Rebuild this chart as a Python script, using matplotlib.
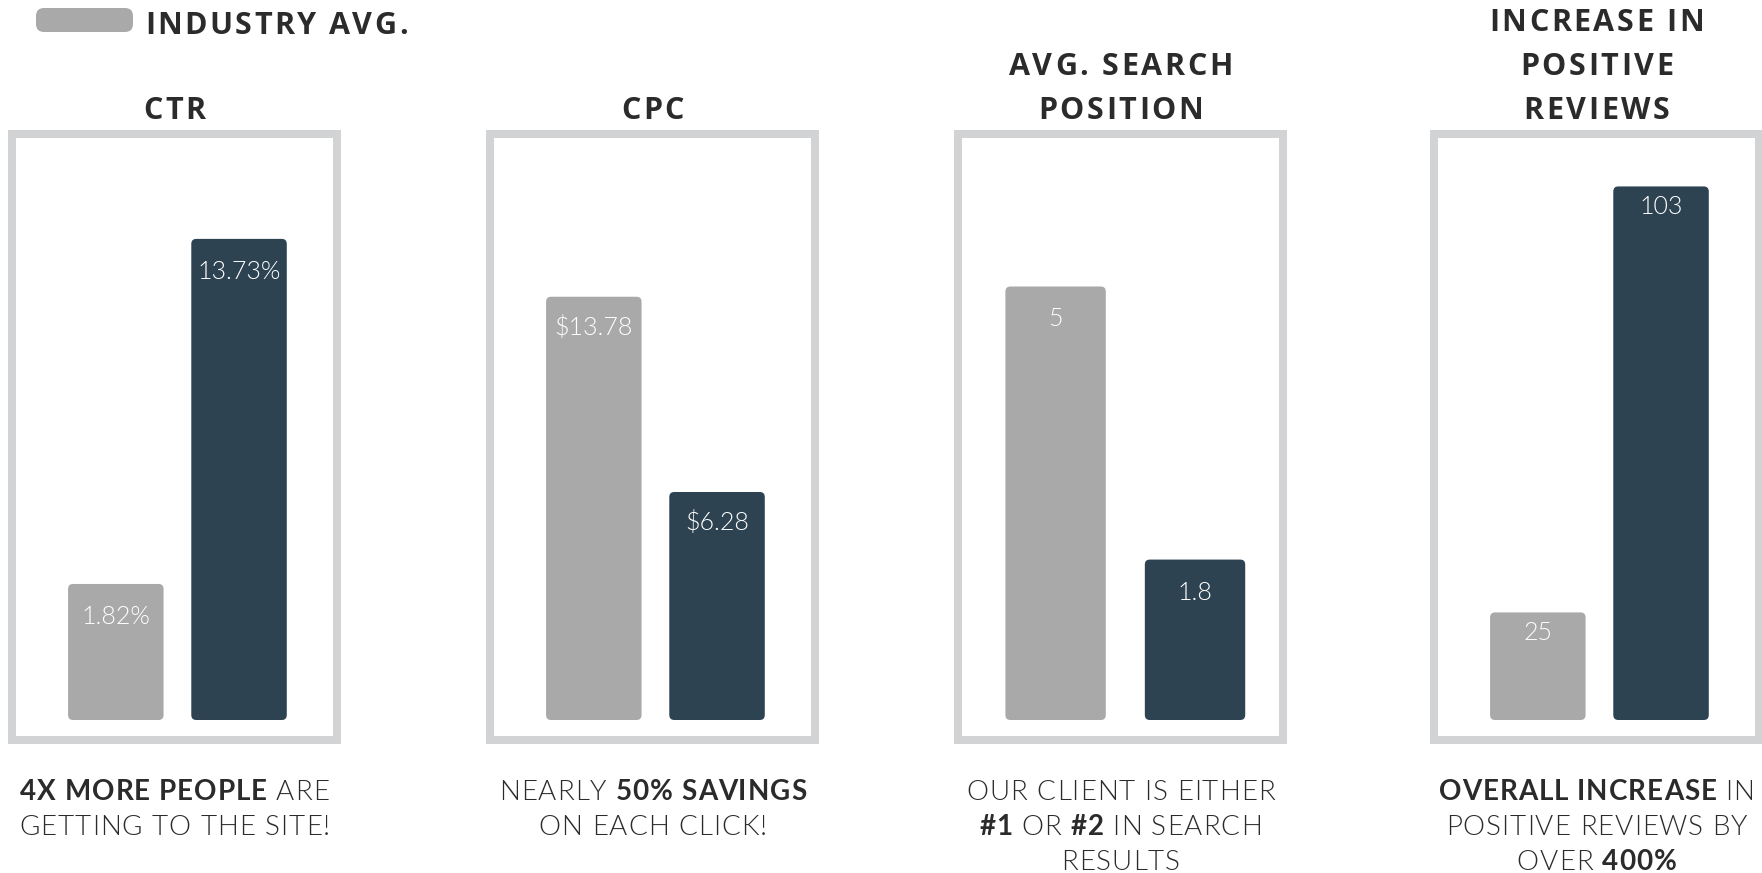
import matplotlib
matplotlib.use("Agg")
import matplotlib.pyplot as plt
from matplotlib.patches import FancyBboxPatch, Rectangle

# ---------------- data ----------------
titles = [["CTR"], ["CPC"], ["AVG. SEARCH", "POSITION"], ["INCREASE IN", "POSITIVE", "REVIEWS"]]
legend_label = "INDUSTRY AVG."
industry_values = [1.82, 13.78, 5, 25]
client_values = [13.73, 6.28, 1.8, 103]
industry_labels = ["1.82%", "$13.78", "5", "25"]
client_labels = ["13.73%", "$6.28", "1.8", "103"]
captions = [
    [[("4X MORE PEOPLE", True), ("ARE", False)], [("GETTING TO THE SITE!", False)]],
    [[("NEARLY", False), ("50% SAVINGS", True)], [("ON EACH CLICK!", False)]],
    [[("OUR CLIENT IS EITHER", False)], [("#1", True), ("OR", False), ("#2", True), ("IN SEARCH", False)],
     [("RESULTS", False)]],
    [[("OVERALL INCREASE", True), ("IN", False)], [("POSITIVE REVIEWS BY", False)],
     [("OVER", False), ("400%", True)]],
]

# ---------------- style / layout ----------------
W, H, DPI = 1762, 873, 100
GRAY = "#A9A9A9"
DARK = "#2D4351"
FRAME = "#D2D3D5"
TXT = "#2B2B2B"
plt.rcParams["font.family"] = ["Lato", "DejaVu Sans"]
TITLE_FONT = ["Open Sans", "Lato", "DejaVu Sans"]
CAP_FONT = ["Lato", "DejaVu Sans"]

ax_left_px = [12, 490, 958, 1434]
ax_w_px = 325
ax_top_px, ax_bot_px = 134, 739.5
ax_h_px = ax_bot_px - ax_top_px
xlims = [(-0.8425, 1.795), (-0.8425, 1.795), (-0.700, 1.631), (-0.8425, 1.795)]
bar_widths = [0.775, 0.775, 0.72, 0.775]
bar_base = [-2.875, -2.476, -0.08, 5.3]
ylims = [(-3.548, 17.35), (-3.225, 20.03), (-0.3085, 6.787), (1.729, 112.6)]
label_offsets = [33, 31, 33, 21]
corner_px = 5

fig = plt.figure(figsize=(W / DPI, H / DPI), dpi=DPI)
fig.patch.set_facecolor("white")

for i in range(4):
    ax = fig.add_axes([ax_left_px[i] / W, 1 - ax_bot_px / H, ax_w_px / W, ax_h_px / H])
    ax.set_xlim(*xlims[i])
    ax.set_ylim(*ylims[i])
    ax.axis("off")
    ax.add_patch(Rectangle((0, 0), 1, 1, transform=ax.transAxes, fill=False,
                           lw=8 * 72 / DPI, ec=FRAME, joinstyle="miter", clip_on=False))
    pxx = ax_w_px / (xlims[i][1] - xlims[i][0])
    pxy = ax_h_px / (ylims[i][1] - ylims[i][0])
    vals = [industry_values[i], client_values[i]]
    labs = [industry_labels[i], client_labels[i]]
    bars = ax.bar([0, 1], [v - bar_base[i] for v in vals], bottom=bar_base[i],
                  width=bar_widths[i], color=[GRAY, DARK])
    for b, lab, col in zip(bars, labs, [GRAY, DARK]):
        x0, y0, w, h = b.get_x(), b.get_y(), b.get_width(), b.get_height()
        b.remove()
        r = corner_px / pxx
        ax.add_patch(FancyBboxPatch((x0, y0), w, h,
                                    boxstyle=f"round,pad=0,rounding_size={r}",
                                    mutation_aspect=pxx / pxy, fc=col, ec="none"))
        ax.annotate(lab, xy=(x0 + w / 2, y0 + h), xytext=(0, -label_offsets[i]),
                    textcoords="offset pixels", ha="center", va="center",
                    color="white", fontsize=18, fontweight=300, parse_math=False)

# overlay in pixel coordinates
ov = fig.add_axes([0, 0, 1, 1])
ov.set_xlim(0, W)
ov.set_ylim(H, 0)
ov.axis("off")
ov.patch.set_visible(False)
renderer = fig.canvas.get_renderer()

_cache = {}


def ink_w(s, fs, weight, family):
    key = (s, fs, weight, tuple(family))
    if key not in _cache:
        t = ov.text(0, 0, s, fontsize=fs, fontweight=weight, family=family, parse_math=False)
        _cache[key] = t.get_window_extent(renderer).width
        t.remove()
    return _cache[key]


def adv(c, fs, weight, family):
    return ink_w("H" + c + "H", fs, weight, family) - ink_w("HH", fs, weight, family)


def tracked(x, y, segments, fs, family, track, align="center"):
    """Draw text made of (string, weight) segments with letter spacing."""
    chars = []
    for k, (s, wt) in enumerate(segments):
        if k > 0:
            chars.append((" ", segments[k - 1][1]))
        chars.extend((c, wt) for c in s)
    advs = [adv(c, fs, wt, family) for c, wt in chars]
    total = sum(advs) + track * (len(chars) - 1)
    pen = x - total / 2 if align == "center" else x
    for (c, wt), a in zip(chars, advs):
        if c != " ":
            ov.text(pen + a / 2, y, c, ha="center", va="baseline", fontsize=fs,
                    fontweight=wt, family=family, color=TXT, parse_math=False)
        pen += a + track


# legend
ov.add_patch(FancyBboxPatch((36, 8), 97, 24, boxstyle="round,pad=0,rounding_size=8",
                            fc=GRAY, ec="none"))
tracked(145, 34, [(legend_label, "bold")], 22, TITLE_FONT, 2.4, align="left")

# titles
for i in range(4):
    cx = ax_left_px[i] + ax_w_px / 2
    for j, line in enumerate(reversed(titles[i])):
        tracked(cx, 119 - j * 44, [(line, "bold")], 22, TITLE_FONT, 2.6)

# captions with mixed weights
for i in range(4):
    cx = ax_left_px[i] + ax_w_px / 2
    for j, segs in enumerate(captions[i]):
        tracked(cx, 800 + j * 35, [(s, "bold" if b else 300) for s, b in segs],
                20, CAP_FONT, 1.0)

fig.savefig("out.png", dpi=DPI, facecolor="white")
